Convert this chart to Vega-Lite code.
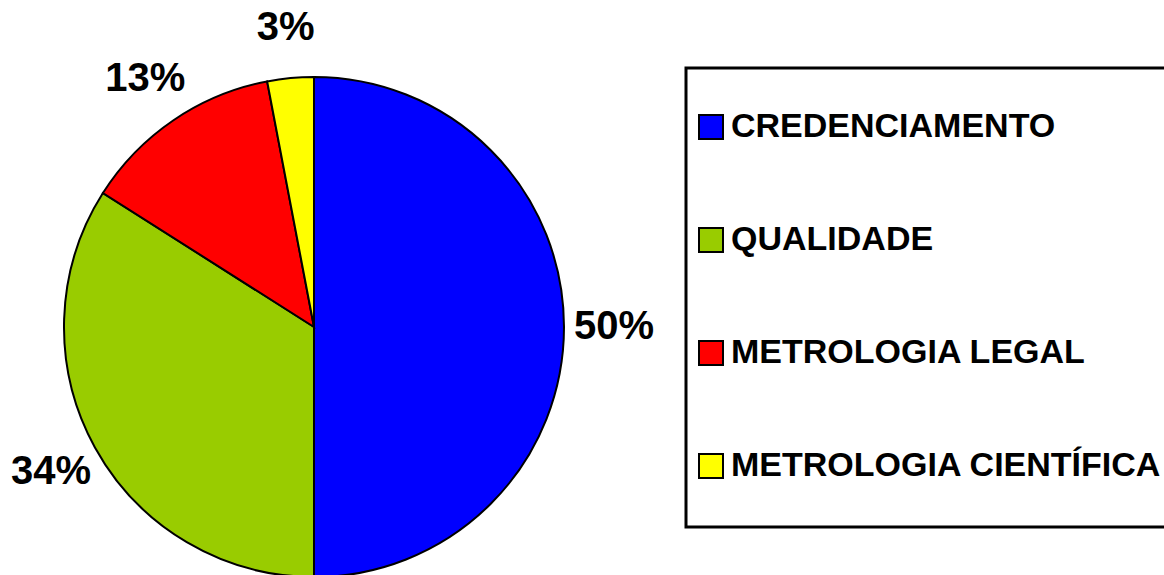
{
  "$schema": "https://vega.github.io/schema/vega-lite/v6.json",
  "width": 628,
  "height": 654,
  "padding": {"left": 0, "top": 0, "right": 536, "bottom": 0},
  "autosize": {"type": "none"},
  "background": "white",
  "config": {"view": {"stroke": null}},
  "data": {
    "values": [
      {"category": "CREDENCIAMENTO", "value": 50, "label": "50%", "order": 1},
      {"category": "QUALIDADE", "value": 34, "label": "34%", "order": 2},
      {"category": "METROLOGIA LEGAL", "value": 13, "label": "13%", "order": 3},
      {"category": "METROLOGIA CIENTÍFICA", "value": 3, "label": "3%", "order": 4}
    ]
  },
  "encoding": {
    "theta": {"field": "value", "type": "quantitative", "stack": true},
    "order": {"field": "order", "type": "quantitative"}
  },
  "layer": [
    {
      "mark": {"type": "arc", "outerRadius": 250, "stroke": "black", "strokeWidth": 2},
      "encoding": {
        "color": {
          "field": "category",
          "type": "nominal",
          "sort": ["CREDENCIAMENTO", "QUALIDADE", "METROLOGIA LEGAL", "METROLOGIA CIENTÍFICA"],
          "scale": {
            "domain": ["CREDENCIAMENTO", "QUALIDADE", "METROLOGIA LEGAL", "METROLOGIA CIENTÍFICA"],
            "range": ["#0000FF", "#99CC00", "#FF0000", "#FFFF00"]
          },
          "legend": {
            "title": " ",
            "titleFontSize": 24,
            "titlePadding": 10,
            "orient": "none",
            "legendX": 686,
            "legendY": 68,
            "padding": 8,
            "strokeColor": "black",
            "fillColor": "white",
            "symbolType": "square",
            "symbolSize": 576,
            "symbolStrokeColor": "black",
            "symbolStrokeWidth": 2,
            "symbolOpacity": 1,
            "labelFont": "Liberation Sans",
            "labelFontWeight": "bold",
            "labelFontSize": 34,
            "labelColor": "black",
            "labelOffset": 3,
            "labelLimit": 1000,
            "labelExpr": "[datum.label, '']",
            "rowPadding": 43,
            "encode": {"legend": {"update": {"strokeWidth": {"value": 3}}}}
          }
        }
      }
    },
    {
      "mark": {"type": "text", "radius": 300, "font": "Liberation Sans", "fontWeight": "bold", "fontSize": 40, "color": "black", "align": "center", "baseline": "middle"},
      "encoding": {
        "text": {"field": "label", "type": "nominal"}
      }
    }
  ]
}
